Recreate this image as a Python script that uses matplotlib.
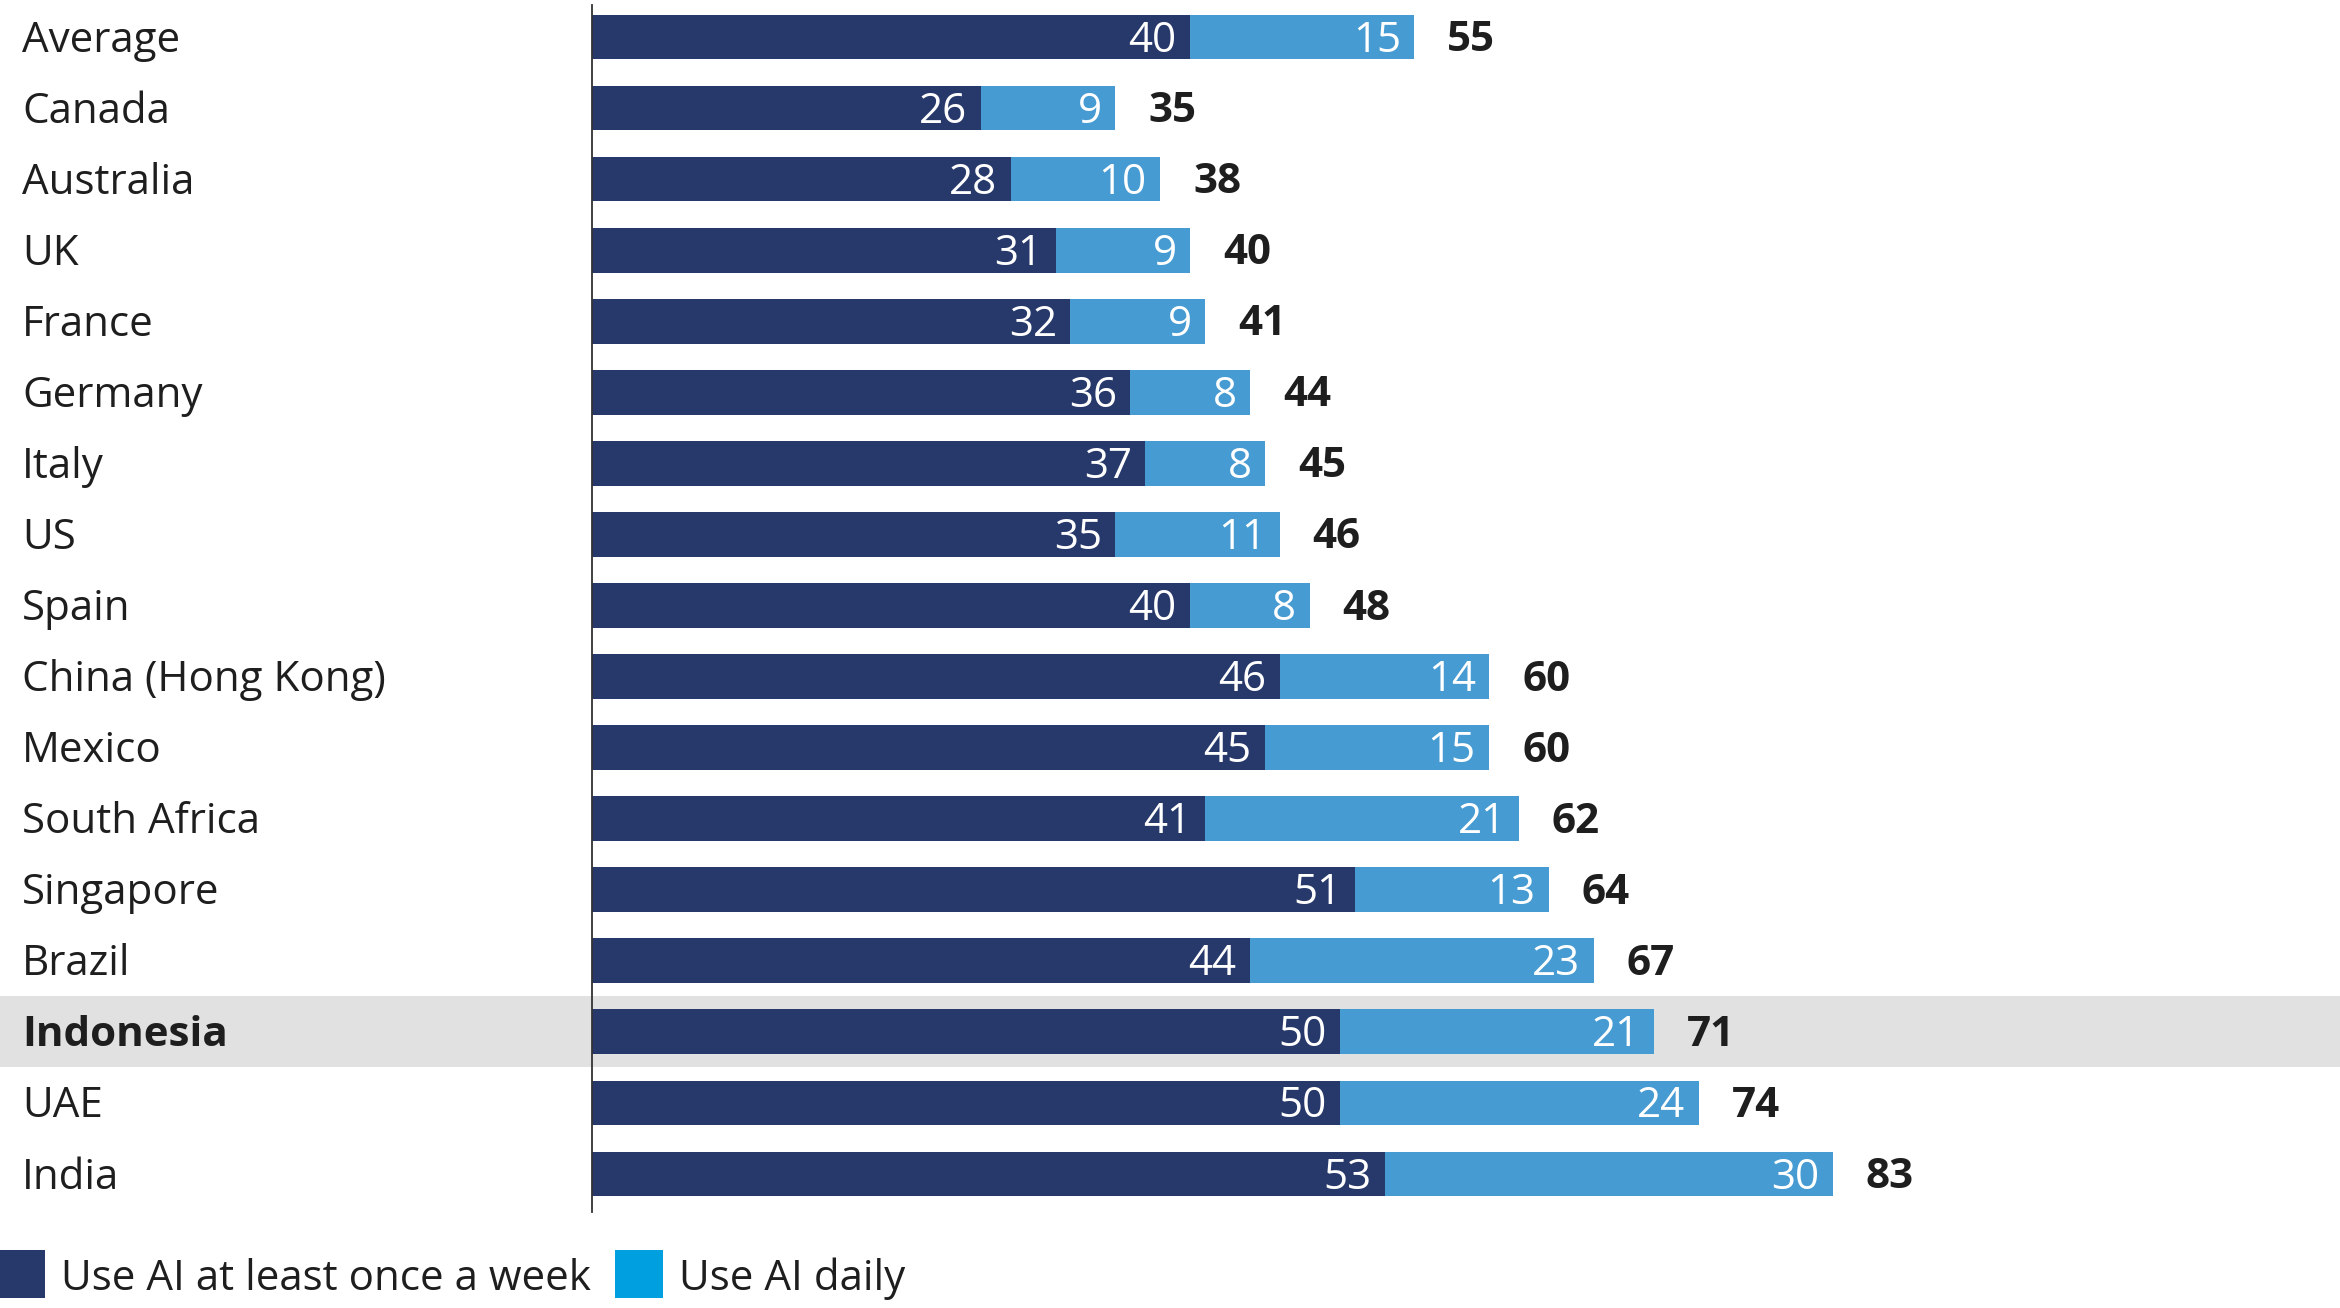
import matplotlib
matplotlib.use("Agg")
import matplotlib.pyplot as plt
from matplotlib.patches import Rectangle
import matplotlib.transforms as mtransforms

plt.rcParams['font.family'] = ['Open Sans', 'Noto Sans', 'DejaVu Sans']

countries = ["Average", "Canada", "Australia", "UK", "France", "Germany", "Italy", "US",
             "Spain", "China (Hong Kong)", "Mexico", "South Africa", "Singapore", "Brazil",
             "Indonesia", "UAE", "India"]
weekly = [40, 26, 28, 31, 32, 36, 37, 35, 40, 46, 45, 41, 51, 44, 50, 50, 53]
daily = [15, 9, 10, 9, 9, 8, 8, 11, 8, 14, 15, 21, 13, 23, 21, 24, 30]
totals = [55, 35, 38, 40, 41, 44, 45, 46, 48, 60, 60, 62, 64, 67, 71, 74, 83]
highlight = "Indonesia"
legend_labels = ["Use AI at least once a week", "Use AI daily"]

DARK = "#27396b"
LIGHT = "#479bd3"
LEG_LIGHT = "#009fe0"
TXT = "#1e1e1e"

W, H = 2340, 1308
fig = plt.figure(figsize=(W / 100, H / 100), dpi=100)
ax = fig.add_axes([592 / W, 96 / H, 1 - 592 / W, 1207.5 / H])

y = list(range(len(countries)))
ax.barh(y, weekly, height=0.63, color=DARK, edgecolor="none", zorder=3)
ax.barh(y, daily, left=weekly, height=0.63, color=LIGHT, edgecolor="none", zorder=3)

ax.set_xlim(0, 116.9)
ax.set_ylim(16.535, -0.457)

fs = 30.3
dy = 0.05
trans = mtransforms.blended_transform_factory(fig.transFigure, ax.transData)
for i, c in enumerate(countries):
    w, d, t = weekly[i], daily[i], totals[i]
    ax.text(w - 0.9, i + dy, str(w), ha="right", va="center", color="white", fontsize=fs, zorder=4)
    ax.text(w + d - 0.9, i + dy, str(d), ha="right", va="center", color="white", fontsize=fs, zorder=4)
    ax.text(t + 2.2, i + dy, str(t), ha="left", va="center", color=TXT, fontsize=fs,
            fontweight="bold", zorder=4)
    ax.text(22 / W, i + dy, c, ha="left", va="center", fontsize=fs, color=TXT,
            fontweight="bold" if c == highlight else "normal", transform=trans, clip_on=False)
    if c == highlight:
        ax.add_patch(Rectangle((0, i - 0.5), 1, 1.0, transform=trans, facecolor="#e1e1e1",
                               edgecolor="none", zorder=0, clip_on=False))

for s in ["top", "right", "bottom"]:
    ax.spines[s].set_visible(False)
ax.spines["left"].set_color("#333333")
ax.spines["left"].set_linewidth(1.3)
ax.spines["left"].set_zorder(5)
ax.set_xticks([])
ax.set_yticks([])
ax.patch.set_alpha(0)

# legend
fig.patches.append(Rectangle((0 / W, 1 - 1298 / H), 45 / W, 48 / H, transform=fig.transFigure,
                             facecolor=DARK, edgecolor="none"))
fig.text(61 / W, 1 - 1279 / H, legend_labels[0], fontsize=fs, color=TXT, va="center", ha="left")
fig.patches.append(Rectangle((615 / W, 1 - 1298 / H), 48 / W, 48 / H, transform=fig.transFigure,
                             facecolor=LEG_LIGHT, edgecolor="none"))
fig.text(679 / W, 1 - 1279 / H, legend_labels[1], fontsize=fs, color=TXT, va="center", ha="left")

fig.savefig("out.png", dpi=100)
